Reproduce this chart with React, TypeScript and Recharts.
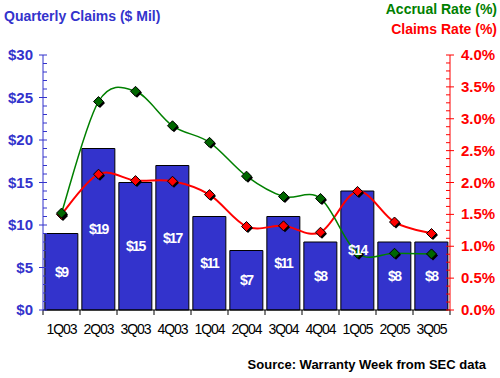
import React from "react";
import {
  ComposedChart,
  Bar,
  Line,
  XAxis,
  YAxis,
  LabelList,
} from "recharts";

const QUARTERS = ["1Q03", "2Q03", "3Q03", "4Q03", "1Q04", "2Q04", "3Q04", "4Q04", "1Q05", "2Q05", "3Q05"];
const CLAIMS = [9, 19, 15, 17, 11, 7, 11, 8, 14, 8, 8];
const ACCRUAL_RATE = [1.52, 3.27, 3.43, 2.89, 2.63, 2.1, 1.78, 1.75, 0.89, 0.89, 0.88];
const CLAIMS_RATE = [1.5, 2.13, 2.03, 2.02, 1.81, 1.31, 1.32, 1.22, 1.86, 1.38, 1.2];

const LEFT_TICKS = Array.from({ length: 31 }, (_, i) => i);
const RIGHT_TICKS = Array.from({ length: 33 }, (_, i) => i * 0.125);

const BLUE = "#3333cc";
const GREEN = "#008000";
const RED = "#ff0000";
const FONT = "'Liberation Sans', Arial, sans-serif";

const data = QUARTERS.map((q, i) => ({
  q,
  claims: CLAIMS[i],
  accrual: ACCRUAL_RATE[i],
  claimsRate: CLAIMS_RATE[i],
}));

// Excel-like smoothing (Catmull-Rom through points)
function smoothCurve(context: any) {
  let pts: [number, number][] = [];
  return {
    areaStart() {},
    areaEnd() {},
    lineStart() {
      pts = [];
    },
    point(x: number, y: number) {
      pts.push([+x, +y]);
    },
    lineEnd() {
      if (!pts.length) return;
      context.moveTo(pts[0][0], pts[0][1]);
      for (let i = 0; i < pts.length - 1; i++) {
        const p0 = pts[Math.max(i - 1, 0)];
        const p1 = pts[i];
        const p2 = pts[i + 1];
        const p3 = pts[Math.min(i + 2, pts.length - 1)];
        context.bezierCurveTo(
          p1[0] + (p2[0] - p0[0]) / 6,
          p1[1] + (p2[1] - p0[1]) / 6,
          p2[0] - (p3[0] - p1[0]) / 6,
          p2[1] - (p3[1] - p1[1]) / 6,
          p2[0],
          p2[1]
        );
      }
    },
  };
}

function diamond(fill: string) {
  return (props: any) => {
    const { cx, cy, index } = props;
    if (cx == null || cy == null) return <g key={index} />;
    const r = 5;
    const d = (ox: number, oy: number) =>
      `M${cx + ox},${cy - r + oy}L${cx + r + ox},${cy + oy}L${cx + ox},${cy + r + oy}L${cx - r + ox},${cy + oy}Z`;
    return (
      <g key={index}>
        <path d={d(1.5, 1.5)} fill="#000" />
        <path d={d(0, 0)} fill={fill} stroke="#000" strokeWidth={1} />
      </g>
    );
  };
}

function LeftTick(props: any) {
  const { x, y, payload } = props;
  const v = payload.value;
  const major = v % 5 === 0;
  return (
    <g>
      <line x1={major ? x - 4 : x} x2={x + 4} y1={y} y2={y} stroke={BLUE} strokeWidth={1} />
      {major && (
        <text x={x - 10} y={y + 5} textAnchor="end" fill={BLUE} fontSize={15} fontWeight="bold" fontFamily={FONT}>
          ${v}
        </text>
      )}
    </g>
  );
}

function RightTick(props: any) {
  const { x, y, payload } = props;
  const v = payload.value;
  const major = Math.abs(v * 2 - Math.round(v * 2)) < 1e-6;
  return (
    <g>
      <line x1={x - 4} x2={major ? x + 4 : x} y1={y} y2={y} stroke={RED} strokeWidth={1} />
      {major && (
        <text x={x + 11} y={y + 5} textAnchor="start" fill={RED} fontSize={15} fontWeight="bold" fontFamily={FONT}>
          {v.toFixed(1)}%
        </text>
      )}
    </g>
  );
}

function BottomTick(props: any) {
  const { x, y, payload, index } = props;
  const half = payload.offset || 18.5;
  return (
    <g>
      <line x1={x - half} x2={x - half} y1={y} y2={y + 5} stroke="#000" />
      {index === QUARTERS.length - 1 && (
        <line x1={x + half} x2={x + half} y1={y} y2={y + 5} stroke="#000" />
      )}
      <text x={x} y={y + 24} textAnchor="middle" fill="#000" fontSize={14} letterSpacing={-1} fontFamily={FONT}>
        {payload.value}
      </text>
    </g>
  );
}

export default function App() {
  return (
    <div style={{ position: "relative", width: 500, height: 378, background: "#fff" }}>
      <style>{`body{margin:0}`}</style>
      <ComposedChart
        width={500}
        height={378}
        data={data}
        margin={{ top: 55, right: 0, bottom: 38, left: 0 }}
        barCategoryGap="5%"
      >
        <XAxis
          dataKey="q"
          xAxisId="x"
          height={30}
          interval={0}
          tickSize={0}
          tickMargin={0}
          tickLine={false}
          axisLine={{ stroke: "#000" }}
          tick={<BottomTick />}
        />
        <YAxis
          yAxisId="left"
          orientation="left"
          width={43}
          domain={[0, 30]}
          ticks={LEFT_TICKS}
          interval={0}
          tickSize={0}
          tickMargin={0}
          tickLine={false}
          axisLine={{ stroke: BLUE }}
          tick={<LeftTick />}
        />
        <YAxis
          yAxisId="right"
          orientation="right"
          width={50}
          domain={[0, 4]}
          ticks={RIGHT_TICKS}
          interval={0}
          tickSize={0}
          tickMargin={0}
          tickLine={false}
          axisLine={{ stroke: RED }}
          tick={<RightTick />}
        />
        <Bar
          dataKey="claims"
          xAxisId="x"
          yAxisId="left"
          fill={BLUE}
          stroke="#000"
          strokeWidth={1}
          isAnimationActive={false}
        >
          <LabelList
            dataKey="claims"
            position="center"
            formatter={(v: any) => `$${v}`}
            fill="#fff"
            fontSize={14}
            fontWeight="bold"
            fontFamily={FONT}
            letterSpacing={-1.5}
          />
        </Bar>
        <Line
          dataKey="claimsRate"
          xAxisId="x"
          yAxisId="right"
          type={smoothCurve as any}
          stroke={RED}
          strokeWidth={2}
          dot={diamond(RED)}
          activeDot={false}
          isAnimationActive={false}
        />
        <Line
          dataKey="accrual"
          xAxisId="x"
          yAxisId="right"
          type={smoothCurve as any}
          stroke={GREEN}
          strokeWidth={1.5}
          dot={diamond("#006600")}
          activeDot={false}
          isAnimationActive={false}
        />
      </ComposedChart>
      <div style={{ position: "absolute", left: 4, top: 8, fontFamily: FONT, fontWeight: "bold", fontSize: 14, color: BLUE, whiteSpace: "nowrap" }}>
        Quarterly Claims ($ Mil)
      </div>
      <div style={{ position: "absolute", right: 3, top: 1, fontFamily: FONT, fontWeight: "bold", fontSize: 14, color: GREEN, whiteSpace: "nowrap" }}>
        Accrual Rate (%)
      </div>
      <div style={{ position: "absolute", right: 3, top: 21, fontFamily: FONT, fontWeight: "bold", fontSize: 14, color: RED, whiteSpace: "nowrap" }}>
        Claims Rate (%)
      </div>
      <div style={{ position: "absolute", right: 14, top: 357, fontFamily: FONT, fontWeight: "bold", fontSize: 13, color: "#000", whiteSpace: "nowrap" }}>
        Source: Warranty Week from SEC data
      </div>
    </div>
  );
}
